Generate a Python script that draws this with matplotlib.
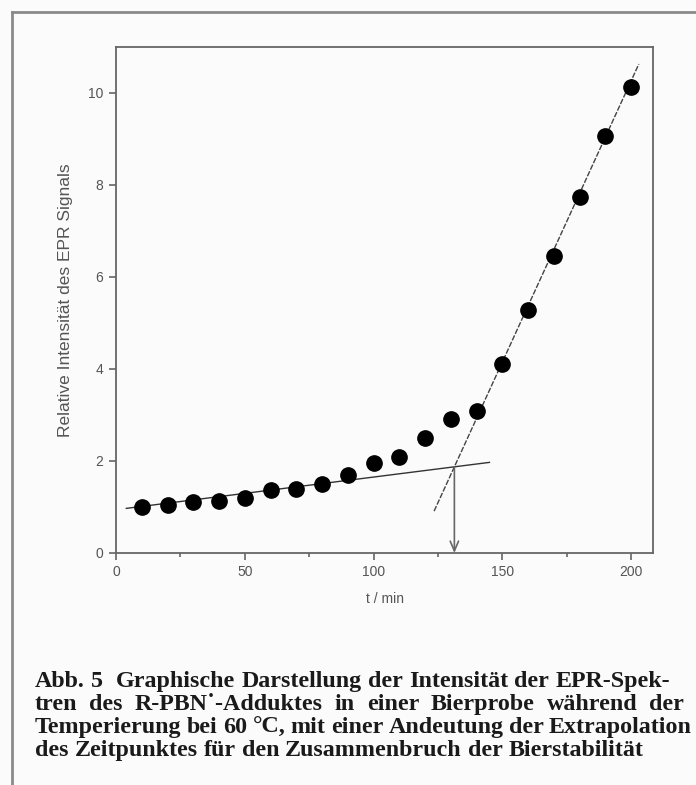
import matplotlib
matplotlib.use("Agg")
import matplotlib.pyplot as plt
from matplotlib.ticker import MultipleLocator

# values
t_min = [10, 20, 30, 40, 50, 60, 70, 80, 90, 100, 110, 120, 130, 140,
         150, 160, 170, 180, 190, 200]
intensity = [1.00, 1.04, 1.10, 1.13, 1.19, 1.37, 1.39, 1.49, 1.69, 1.96,
             2.09, 2.50, 2.91, 3.09, 4.10, 5.28, 6.46, 7.75, 9.07, 10.14]

# the two straight lines drawn by hand (end points)
base_t = [4, 145]
base_y = [0.97, 1.97]
steep_t = [123.5, 203]
steep_y = [0.91, 10.63]

xticks = [0, 50, 100, 150, 200]
yticks = [0, 2, 4, 6, 8, 10]
xlabel = "t / min"
ylabel = "Relative Intensität des EPR Signals"

caption = [
    "Abb. 5  Graphische Darstellung der Intensität der EPR-Spek-",
    "tren des R-PBN˙-Adduktes in einer Bierprobe während der",
    "Temperierung bei 60 °C, mit einer Andeutung der Extrapolation",
    "des Zeitpunktes für den Zusammenbruch der Bierstabilität",
]

W, H = 696, 785
fig = plt.figure(figsize=(W / 100, H / 100), dpi=100, facecolor='#fbfbfb')

# page frame (only top and left edge visible on the scan)
fig.add_artist(plt.Line2D([12 / W, 12 / W], [0, 1 - 12 / H], color='#8a8a8a', lw=2))
fig.add_artist(plt.Line2D([12 / W, 1], [1 - 12 / H, 1 - 12 / H], color='#8a8a8a', lw=2))

ax = fig.add_axes([116 / W, 1 - 553 / H, (653 - 116) / W, (553 - 47) / H])
ax.set_facecolor('#fbfbfb')

gray = '#555555'
for s in ax.spines.values():
    s.set_color('#666666')
    s.set_linewidth(1.3)

# fitted lines
ax.plot(base_t, base_y, color='#333333', lw=1.0, zorder=2)
ax.plot(steep_t, steep_y, color='#444444', lw=1.0, ls=(0, (4, 1.2)), zorder=2)

# intersection -> arrow down to the time axis
m1 = (base_y[1] - base_y[0]) / (base_t[1] - base_t[0])
m2 = (steep_y[1] - steep_y[0]) / (steep_t[1] - steep_t[0])
tx = (steep_y[0] - base_y[0] + m1 * base_t[0] - m2 * steep_t[0]) / (m1 - m2)
ty = base_y[0] + m1 * (tx - base_t[0])
ax.annotate('', xy=(tx, 0), xytext=(tx, ty),
            arrowprops=dict(arrowstyle='->,head_length=0.7,head_width=0.3',
                            color='#666666', lw=1.2, shrinkA=0, shrinkB=0))

ax.plot(t_min, intensity, 'o', color='black', ms=11, zorder=3)

ax.set_xlim(0, 208.5)
ax.set_ylim(0, 11)
ax.set_xticks(xticks)
ax.set_yticks(yticks)
ax.xaxis.set_minor_locator(MultipleLocator(25))
ax.tick_params(which='major', direction='out', length=5, width=1.2, color='#666666',
               labelsize=10, labelcolor=gray, pad=4)
ax.tick_params(which='minor', direction='out', length=3, width=1.2, color='#666666')
for lab in ax.get_xticklabels() + ax.get_yticklabels():
    lab.set_family(['Liberation Sans', 'DejaVu Sans'])

ax.set_xlabel(xlabel, fontsize=10, color=gray, family=['Liberation Sans', 'DejaVu Sans'], labelpad=9)
ax.set_ylabel(ylabel, fontsize=12.5, color=gray, family=['Liberation Sans', 'DejaVu Sans'], labelpad=11)

# justified caption, word by word
cap_base = [687, 710, 733, 756]
cap_right = [670, 684, 692, None]
cap_left = 35
fs = 17.3
fig.canvas.draw()
r = fig.canvas.get_renderer()
for line, yb, right in zip(caption, cap_base, cap_right):
    words = line.split(' ')
    ts = [fig.text(0, 1 - yb / H, w, fontsize=fs, family='Liberation Serif',
                   weight='bold', color='#1a1a1a', va='baseline') for w in words]
    widths = [t.get_window_extent(r).width for t in ts]
    if right is None:
        gap = fs * 100 / 72 * 0.25
    else:
        gap = (right - cap_left - sum(widths)) / (len(words) - 1)
    x = cap_left
    for t, w in zip(ts, widths):
        t.set_x(x / W)
        x += w + gap

fig.savefig('out.png', dpi=100, facecolor=fig.get_facecolor())
